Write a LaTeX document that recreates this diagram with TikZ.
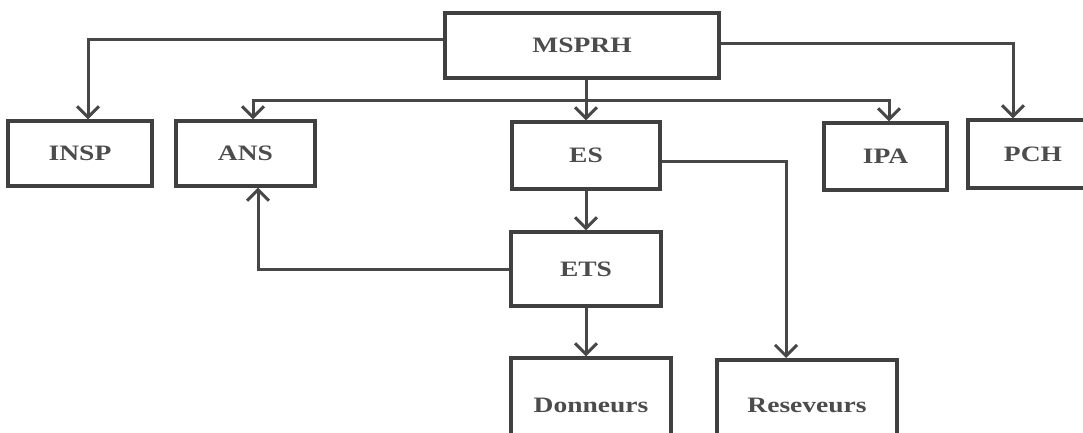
\documentclass[tikz,border=0pt]{standalone}
\usepackage{fontspec}
\newfontfamily\orgfont[FakeStretch=1.25]{Liberation Serif}
\usetikzlibrary{arrows.meta, positioning, calc}

\begin{document}
\begin{tikzpicture}[x=1pt, y=-1pt,
  box/.style={draw=black!75, line width=3.2pt, rectangle, inner sep=0pt,
    minimum height=65pt, text=black!70, font=\orgfont\bfseries\fontsize{22}{24}\selectfont},
  conn/.style={draw=black!72, line width=3pt, -{Straight Barb[length=11pt, width=22pt]}},
  link/.style={draw=black!72, line width=3pt}]
  \useasboundingbox (0,0) rectangle (1083,432);
  \node[box, minimum width=274pt] (msprh) at (582,45.5)  {MSPRH};
  \node[box, minimum width=144pt] (insp)  at (80,153.5)  {INSP};
  \node[box, minimum width=139pt] (ans)   at (245.5,153.5) {ANS};
  \node[box, minimum width=148pt, minimum height=67pt] (es)  at (586,155.5) {ES};
  \node[box, minimum width=123pt, minimum height=67pt] (ipa) at (885.5,156.5) {IPA};
  \node[box, minimum width=130pt, minimum height=68pt] (pch) at (1033,154) {PCH};
  \node[box, minimum width=150pt, minimum height=74pt] (ets) at (586,269) {ETS};
  \node[box, minimum width=160pt, minimum height=94pt] (don) at (591,405) {Donneurs};
  \node[box, minimum width=180pt, minimum height=90pt, line width=4pt] (res) at (807,405) {Reseveurs};
  \coordinate (bus) at (585,100);
  \draw[conn] ([yshift=6.5]msprh.west) -| ([xshift=8]insp.north);
  \draw[conn] ([yshift=2.5]msprh.east) -| ([xshift=-20]pch.north);
  \draw[conn] (es.north |- msprh.south) -- (es.north);
  \draw[conn] (bus) -| ([xshift=7.5]ans.north);
  \draw[conn] (bus) -| ([xshift=3.5]ipa.north);
  \draw[conn] ([yshift=-5.5]es.east) -| ([xshift=-21]res.north);
  \draw[conn] (es) -- (ets);
  \draw[conn] (ets.west) -| ([xshift=12.5]ans.south);
  \draw[conn] (ets.south) -- (ets.south |- don.north);
\end{tikzpicture}
\end{document}
